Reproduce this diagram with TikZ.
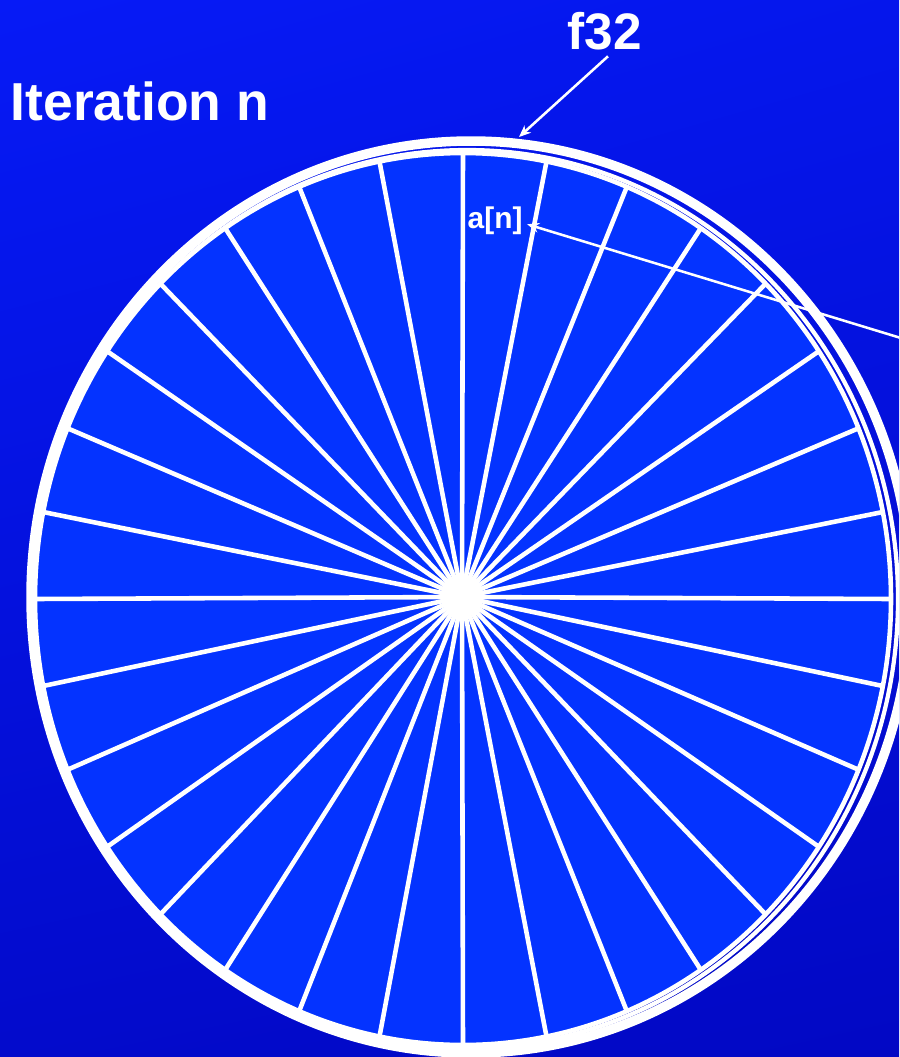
\documentclass[tikz,border=0pt]{standalone}
\usepackage{fontspec}
\setmainfont{Liberation Sans}
\usetikzlibrary{arrows.meta,calc,shadings}
\definecolor{slideTop}{RGB}{6,26,246}
\definecolor{slideBot}{RGB}{2,8,196}
\definecolor{sliceBlue}{RGB}{4,51,255}

\begin{document}
\begin{tikzpicture}[x=0.01cm, y=-0.01cm,
    spoke/.style={white, line width=1.3pt},
    rim/.style={draw=white},
    slidetext/.style={text=white, inner sep=0pt},
    pointer/.style={white, line width=0.72pt, -{Stealth[length=3.4pt, width=2.8pt]}}
  ]
    % --- Background ---
    \useasboundingbox (0,0) rectangle (899,1057);
    \clip (0,0) rectangle (899,1057);
    \shade[upper left=slideTop, upper right=slideTop!80!slideBot, lower left=slideBot!85!slideTop, lower right=slideBot] (0,0) rectangle (899,1057);

    % --- Stacked rims ---
    \draw[rim, line width=2.7pt] (471,597) ellipse [x radius=440, y radius=456];
    \draw[rim, line width=1.2pt] (467,599) ellipse [x radius=431, y radius=449];

    % --- Pie with 32 slices ---
    \coordinate (hub) at (462,597);
    \coordinate (pc) at (463,599);
    \fill[sliceBlue] (pc) ellipse [x radius=428, y radius=446];
    \foreach \k in {0,...,31}
      \draw[spoke] (hub) -- ($(pc)+(\k*11.25:428 and 446)$);
    \draw[spoke] (pc) ellipse [x radius=428, y radius=446];

    % --- Labels ---
    \node[slidetext, font=\bfseries\fontsize{15.2}{18}\selectfont, anchor=base west] (iter) at (10,120) {Iteration n};
    \node[slidetext, font=\bfseries\fontsize{14.6}{17}\selectfont, anchor=base] (f32) at (605,49) {f32};
    \node[slidetext, font=\bfseries\fontsize{8.5}{10}\selectfont, anchor=base west] (an) at (467,228) {a[n]};

    % --- Pointers ---
    \coordinate (f32tip) at (519,137);
    \coordinate (antail) at (960,356);
    \draw[pointer] ([shift={(3,6)}]f32.south) -- (f32tip);
    \draw[pointer] (antail) -- ([shift={(4,4)}]an.east);
  \end{tikzpicture}
\end{document}
